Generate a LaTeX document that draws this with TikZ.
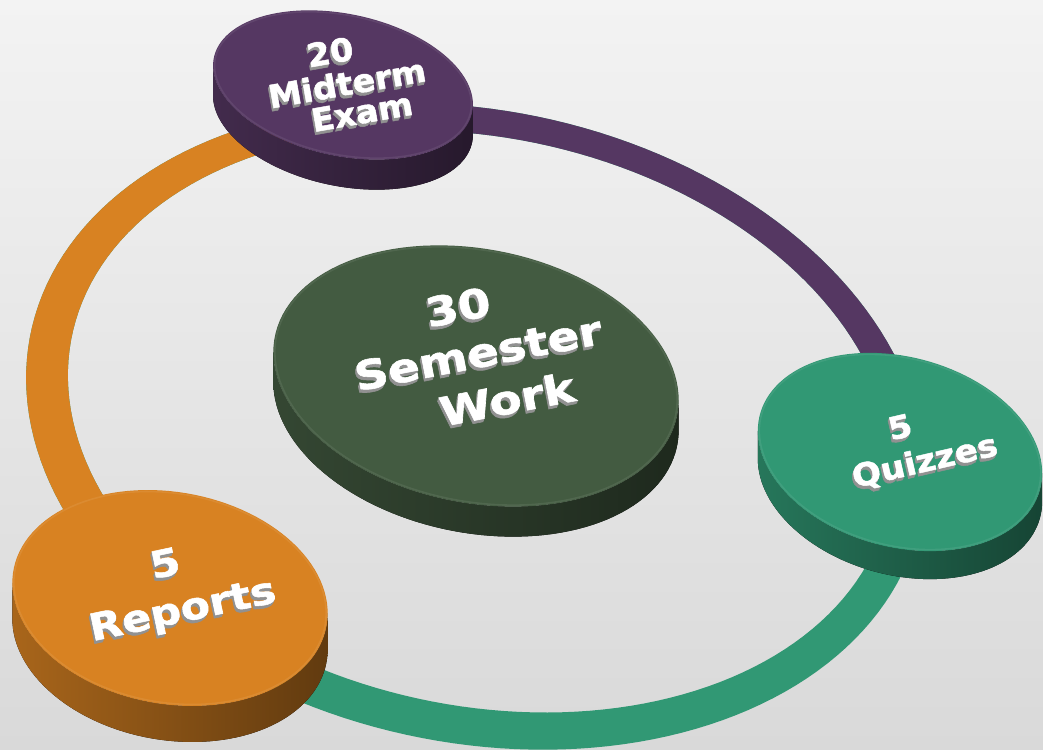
\documentclass[tikz,border=0pt]{standalone}
\usepackage{fontspec}
\usepackage{graphicx}
\usetikzlibrary{calc}
\newfontfamily\lblfont{DejaVu Sans}[BoldFeatures={FakeBold=1.4}]
\definecolor{bgtop}{RGB}{243,243,243}
\definecolor{bgbot}{RGB}{217,217,217}
\definecolor{cpurple}{RGB}{85,55,98}
\definecolor{corange}{RGB}{216,130,34}
\definecolor{cgreen}{RGB}{49,152,116}
\definecolor{cdark}{RGB}{67,91,65}
\definecolor{cshadow}{RGB}{145,145,145}
\tikzset{
  lbl/.style={text=white, inner sep=0pt, align=center}
}
% disc: name, cx, cy, a, b, phi, thickness, colour
\newcommand\drawdisc[8]{%
  \pgfmathsetmacro\tz{atan2(-(#5)*sin(#6),(#4)*cos(#6))}%
  \pgfmathsetmacro\ta{\tz+180}%
  \pgfmathsetmacro\tb{\tz+360}%
  \coordinate (#1) at (#2,#3);
  \fill[left color=#8!78!black, right color=#8!45!black]
    plot[domain=\ta:\tb, samples=70] ({#2+#4*cos(\x)*cos(#6)-#5*sin(\x)*sin(#6)},{#3+#4*cos(\x)*sin(#6)+#5*sin(\x)*cos(#6)})
    -- plot[domain=\tb:\ta, samples=70] ({#2+#4*cos(\x)*cos(#6)-#5*sin(\x)*sin(#6)},{#3-#7+#4*cos(\x)*sin(#6)+#5*sin(\x)*cos(#6)})
    -- cycle;
  \fill[#8] plot[domain=0:360, samples=120] ({#2+#4*cos(\x)*cos(#6)-#5*sin(\x)*sin(#6)},{#3+#4*cos(\x)*sin(#6)+#5*sin(\x)*cos(#6)}) -- cycle;
  \draw[#8!88!white, line width=1.2pt, opacity=0.6] plot[domain=0:360, samples=120] ({#2+(#4-1.5)*cos(\x)*cos(#6)-(#5-1.5)*sin(\x)*sin(#6)},{#3+(#4-1.5)*cos(\x)*sin(#6)+(#5-1.5)*sin(\x)*cos(#6)}) -- cycle;
}
% embossed text: name, x, y, rotation, size, xscale, text
\newcommand\emboss[7]{%
  \foreach \k/\dx/\dy in {3/-1.0/-2.4, 2/-0.66/-1.6, 1/-0.33/-0.8}{%
    \node[lbl, text=cshadow, font=\lblfont\bfseries\fontsize{#5pt}{#5pt}\selectfont, xshift=\dx pt, yshift=\dy pt, rotate=#4] (#1s\k) at (#2,#3) {\scalebox{#6}[1]{#7}};
  }
  \node[lbl, font=\lblfont\bfseries\fontsize{#5pt}{#5pt}\selectfont, rotate=#4] (#1) at (#2,#3) {\scalebox{#6}[1]{#7}};
}
% ring: outer and inner ellipse, even-odd
\newcommand\ringpath{%
  plot[domain=0:360, samples=180] ({475.75+454.75*cos(\x)*cos(-12)-316*sin(\x)*sin(-12)},{323.5+454.75*cos(\x)*sin(-12)+316*sin(\x)*cos(-12)}) -- cycle
  plot[domain=0:360, samples=180] ({480.25+417.25*cos(\x)*cos(-12)-284*sin(\x)*sin(-12)},{328.5+417.25*cos(\x)*sin(-12)+284*sin(\x)*cos(-12)}) -- cycle
}
\begin{document}
\begin{tikzpicture}[x=0.75pt,y=0.75pt]
\useasboundingbox (0,0) rectangle (1043,750);
\shade[top color=bgtop, bottom color=bgbot] (0,0) rectangle (1043,750);
\coordinate (rc) at (478,326);
\coordinate (b1) at (909,288);
\coordinate (b2) at (333,628);
\coordinate (b3) at (132,183);
% ring segments
\fill[cgreen, even odd rule] \ringpath;
\begin{scope}
  \clip (rc) -- ($(rc)!3!(b1)$) -- (1600,1400) -- ($(rc)!3!(b2)$) -- cycle;
  \fill[cpurple, even odd rule] \ringpath;
\end{scope}
\begin{scope}
  \clip (rc) -- ($(rc)!3!(b2)$) -- (-1500,900) -- ($(rc)!3!(b3)$) -- cycle;
  \fill[corange, even odd rule] \ringpath;
\end{scope}
% discs
\drawdisc{mid}{343}{665}{132}{71}{-12}{30}{cpurple}
\drawdisc{cen}{476}{374}{205}{127}{-11}{30}{cdark}
\drawdisc{qui}{900}{298}{145}{95}{-15}{28}{cgreen}
\drawdisc{rep}{170}{152}{159}{106}{-10}{36}{corange}
% labels
\emboss{mida}{330}{698}{10}{24}{1.05}{20}
\emboss{midb}{347}{667}{10}{24}{1.05}{Midterm}
\emboss{midc}{362}{638}{10}{24}{1.05}{Exam}
\emboss{cena}{458}{443}{11}{30}{1.17}{30}
\emboss{cenb}{478}{397}{11}{30}{1.17}{Semester}
\emboss{cenc}{507}{351}{11}{30}{1.17}{Work}
\emboss{quia}{900}{323}{13}{23.5}{1.09}{5}
\emboss{quib}{925}{288}{13}{23.5}{1.09}{Quizzes}
\emboss{repa}{165}{187}{12}{28}{1.15}{5}
\emboss{repb}{183}{138}{12}{28}{1.15}{Reports}
\end{tikzpicture}
\end{document}
